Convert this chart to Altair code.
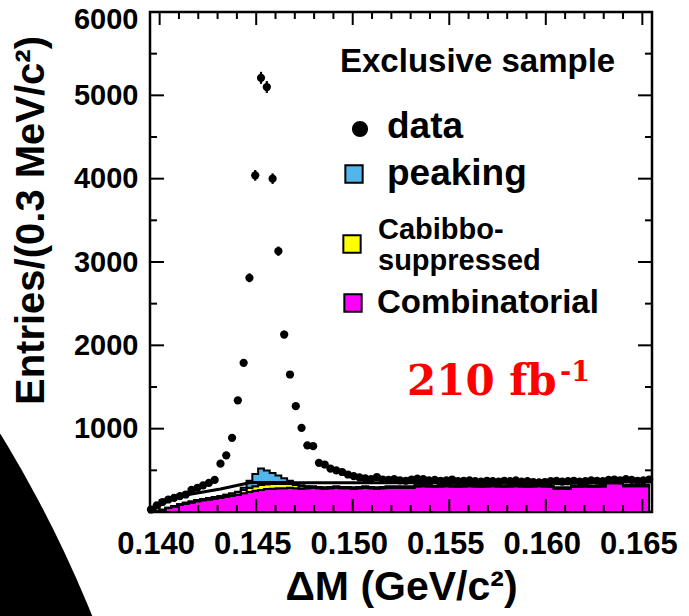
import altair as alt
import pandas as pd

# ---------------- data ----------------
BIN_FIRST_CENTER = 0.13955   # GeV/c^2
BIN_WIDTH = 0.0003           # 0.3 MeV/c^2 bins

data_counts = [30, 80, 120, 150, 170, 190, 210, 265, 290, 320,
               350, 385, 580, 680, 890, 1340, 1790, 2810, 4040, 5210,
               5100, 4000, 3130, 2130, 1650, 1270, 1010, 800, 790, 590,
               570, 520, 500, 480, 450, 430, 415, 405, 395, 420,
               390, 385, 395, 380, 375, 390, 400, 395, 380, 385,
               375, 380, 390, 370, 375, 380, 370, 365, 375, 370,
               365, 375, 370, 380, 365, 370, 360, 355, 360, 370,
               375, 365, 370, 375, 365, 370, 380, 375, 370, 385,
               390, 380, 395, 385, 375, 380, 390]

combinatorial = [0, 10, 25, 48, 65, 84, 100, 115, 130, 140,
                 150, 160, 170, 182, 195, 205, 225, 240, 255, 265,
                 275, 280, 285, 285, 290, 285, 280, 285, 290, 285,
                 280, 285, 290, 285, 285, 280, 285, 290, 285, 280,
                 285, 290, 290, 290, 290, 290, 305, 310, 305, 300,
                 305, 310, 305, 300, 305, 310, 305, 300, 305, 310,
                 305, 300, 305, 310, 305, 300, 305, 310, 305, 300,
                 280, 280, 280, 300, 300, 305, 300, 300, 305, 345,
                 345, 345, 310, 310, 310, 310, 310]

cabibbo = [0, 0, 2, 4, 6, 8, 10, 12, 14, 16,
           18, 20, 22, 25, 28, 32, 40, 50, 55, 58,
           58, 56, 54, 50, 45, 40, 30, 20, 15, 15,
           15, 15, 15, 15, 15, 15, 15, 15, 15, 15,
           15, 15, 15, 15, 15, 15, 15, 15, 15, 15,
           15, 15, 15, 15, 15, 15, 15, 15, 15, 15,
           15, 15, 15, 15, 15, 15, 15, 15, 15, 15,
           15, 15, 15, 15, 15, 15, 15, 15, 15, 15,
           15, 15, 15, 15, 15, 15, 15]

peaking = [0, 0, 0, 0, 0, 0, 0, 0, 0, 0,
           0, 0, 0, 0, 0, 5, 25, 85, 145, 200,
           165, 132, 100, 70, 40, 20, 10, 5] + [0] * 59

fit_total = [5, 55, 100, 135, 160, 180, 200, 215, 228, 240,
             252, 264, 276, 290, 305, 320, 335, 350, 355, 355,
             355, 355, 355, 355, 355, 352, 350, 350, 350, 350,
             350, 350, 350, 350, 350, 350, 350, 350, 350, 350,
             350, 350, 350, 350, 350, 350, 355, 355, 355, 355,
             355, 355, 355, 355, 355, 355, 355, 355, 355, 355,
             355, 355, 355, 355, 355, 355, 355, 355, 355, 355,
             340, 340, 340, 350, 350, 350, 350, 350, 355, 365,
             365, 365, 360, 360, 360, 360, 360]

x_major = [0.140, 0.145, 0.150, 0.155, 0.160, 0.165]
x_minor = [0.141, 0.142, 0.143, 0.144, 0.146, 0.147, 0.148, 0.149,
           0.151, 0.152, 0.153, 0.154, 0.156, 0.157, 0.158, 0.159,
           0.161, 0.162, 0.163, 0.164]
y_major = [1000, 2000, 3000, 4000, 5000, 6000]
y_minor = [500, 1500, 2500, 3500, 4500, 5500]

legend_title = "Exclusive sample"
legend_labels = ["data", "peaking", "Cabibbo-suppressed", "Combinatorial"]
legend_colors = ["#000000", "#52b6ea", "#ffff00", "#ff00ff"]
lumi_text = "210 fb"
lumi_exp = "-1"

# ---------------- tables ----------------
n = len(data_counts)
centers = [round(BIN_FIRST_CENTER + BIN_WIDTH * i, 5) for i in range(n)]

df_data = pd.DataFrame({"dm": centers, "count": data_counts})
df_fit = pd.DataFrame({"dm": centers, "fit": fit_total})
df_stack = pd.concat([
    pd.DataFrame({"dm": centers, "val": combinatorial, "series": "Combinatorial", "ord": 0}),
    pd.DataFrame({"dm": centers, "val": cabibbo, "series": "Cabibbo-suppressed", "ord": 1}),
    pd.DataFrame({"dm": centers, "val": peaking, "series": "peaking", "ord": 2}),
], ignore_index=True)

FONT = "Liberation Sans, Arial, Helvetica, sans-serif"

XS = alt.Scale(domain=[0.1395, 0.1655], nice=False, zero=False)
YS = alt.Scale(domain=[0, 6000], nice=False)
XAX = alt.Axis(values=x_major, format=".3f", title="ΔM (GeV/c²)", tickSize=0,
               domain=False, grid=False, labelFontSize=31, labelFont=FONT,
               labelFontWeight="bold", labelColor="black", labelPadding=17,
               labelOffset=-4,
               titleFontSize=41, titleFont=FONT, titleFontWeight="bold",
               titleColor="black", titlePadding=8, labelFlush=False)
YAX = alt.Axis(values=y_major, format="d", title="Entries/(0.3 MeV/c²)", tickSize=0,
               domain=False, grid=False, labelFontSize=29, labelFont=FONT,
               labelFontWeight="bold", labelColor="black", labelPadding=12,
               labelFlush=True, labelFlushOffset=7,
               titleFontSize=40, titleFont=FONT, titleFontWeight="bold",
               titleColor="black", titlePadding=22, titleY=208)

CS = alt.Scale(domain=legend_labels, range=legend_colors)


def X(f):
    return alt.X(f"{f}:Q", scale=XS, axis=XAX)


def Y(f, **kw):
    return alt.Y(f"{f}:Q", scale=YS, axis=YAX, **kw)


one = pd.DataFrame({"k": [0]})

# decorative black background shape (bottom-left of the slide)
deco = alt.Chart(one).mark_arc(radius=1221, theta=0, theta2=6.2832, color="black").encode(
    x=alt.value(-1190), y=alt.value(1061))

stack = alt.Chart(df_stack).mark_area(interpolate="step", stroke="black", strokeWidth=2).encode(
    x=X("dm"),
    y=Y("val", stack="zero"),
    fill=alt.Fill("series:N", scale=CS, legend=None),
    order=alt.Order("ord:Q"),
)

fit = alt.Chart(df_fit).mark_line(color="black", strokeWidth=3).encode(
    x=X("dm"), y=Y("fit"))

err = alt.Chart(df_data).transform_calculate(
    lo="datum.count - sqrt(datum.count)", hi="datum.count + sqrt(datum.count)"
).mark_rule(color="black", strokeWidth=2.2).encode(
    x=X("dm"), y=Y("lo"), y2="hi:Q")

pts = alt.Chart(df_data).mark_circle(size=68, color="black", opacity=1).encode(
    x=X("dm"), y=Y("count"))

df_xmaj = pd.DataFrame({"v": x_major})
df_xmin = pd.DataFrame({"v": x_minor})
df_ymaj = pd.DataFrame({"v": y_major})
df_ymin = pd.DataFrame({"v": y_minor})


def xticks(df, length):
    b = alt.Chart(df).mark_rule(color="black", strokeWidth=2).encode(
        x=X("v"), y=alt.value(500), y2=alt.value(500 - length))
    t = alt.Chart(df).mark_rule(color="black", strokeWidth=2).encode(
        x=X("v"), y=alt.value(0), y2=alt.value(length))
    return [b, t]


def yticks(df, length):
    l = alt.Chart(df).mark_rule(color="black", strokeWidth=2).encode(
        y=Y("v"), x=alt.value(0), x2=alt.value(length))
    r = alt.Chart(df).mark_rule(color="black", strokeWidth=2).encode(
        y=Y("v"), x=alt.value(502), x2=alt.value(502 - length))
    return [l, r]


ticks = xticks(df_xmaj, 13) + xticks(df_xmin, 7) + yticks(df_ymaj, 14) + yticks(df_ymin, 7)


# ---------------- legend (drawn inside the frame) ----------------
def text_at(txt, x, y, size, font=FONT, color="black"):
    return alt.Chart(one).mark_text(text=txt, font=font, fontWeight="bold", fontSize=size,
                                    color=color, align="left", baseline="alphabetic").encode(
        x=alt.value(x), y=alt.value(y))


def symbol_at(label, shape, x, y, size):
    return alt.Chart(pd.DataFrame({"series": [label]})).mark_point(
        shape=shape, filled=True, size=size, stroke="black", strokeWidth=2, opacity=1
    ).encode(x=alt.value(x), y=alt.value(y),
             fill=alt.Fill("series:N", scale=CS, legend=None))


legend = [
    text_at(legend_title, 190, 60, 33),
    symbol_at(legend_labels[0], "circle", 210, 117, 200),
    text_at(legend_labels[0], 237, 126, 37),
    symbol_at(legend_labels[1], "square", 204, 162, 300),
    text_at(legend_labels[1], 237, 173, 37),
    symbol_at(legend_labels[2], "square", 202, 232, 300),
    text_at("Cabibbo-", 228, 227, 29),
    text_at("suppressed", 228, 258, 29),
    symbol_at(legend_labels[3], "square", 203, 291, 300),
    text_at(legend_labels[3], 227, 301, 33),
]

lumi = text_at(lumi_text, 257, 383, 42, font="DejaVu Serif", color="#ff0000")
lumi_sup = text_at(lumi_exp, 410, 369, 27, font="DejaVu Serif", color="#ff0000")

chart = alt.layer(deco, stack, fit, err, pts, *ticks, *legend, lumi, lumi_sup).properties(
    width=502, height=500,
    autosize=alt.AutoSizeParams(type="none"),
    padding={"left": 150, "top": 12, "right": 37, "bottom": 104},
    background="white",
).configure_view(stroke="black", strokeWidth=2.5)

chart.save("out.html", embed_options={"renderer": "svg", "actions": False})
